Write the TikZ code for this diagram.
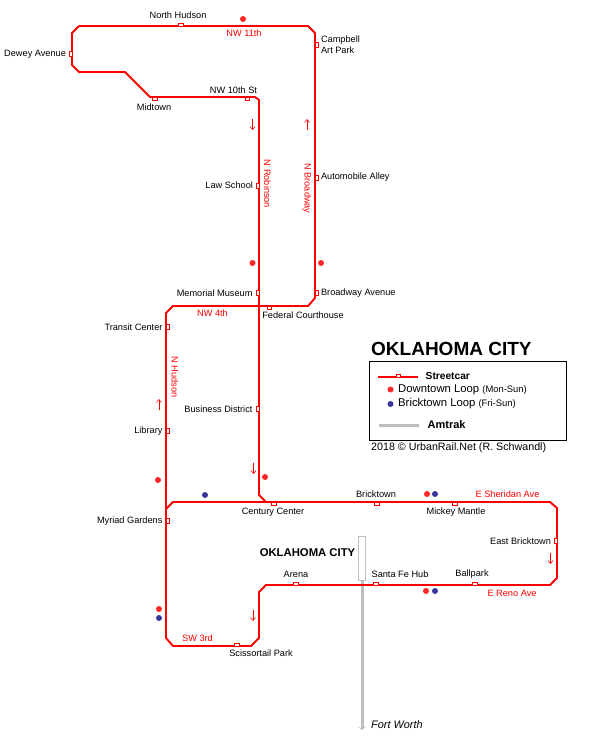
\documentclass[tikz,border=0pt]{standalone}
\usepackage{fontspec}
\setmainfont{Liberation Sans}
\usetikzlibrary{arrows.meta, positioning}
\definecolor{routered}{RGB}{255,0,0}
\definecolor{dotblue}{RGB}{20,20,140}
\definecolor{amtrakgrey}{RGB}{190,190,190}
\tikzset{
	route/.style={draw=routered, line width=1.9pt, line join=miter},
	stop/.style={draw=routered, fill=white, line width=0.7pt, inner sep=0pt, minimum width=4.5pt, minimum height=3pt},
	stopv/.style={stop, minimum width=3pt, minimum height=5pt},
	lbl/.style={font=\fontsize{9.2}{11}\selectfont, inner sep=0pt, align=center, text=black},
	street/.style={lbl, text=routered},
	dotred/.style={circle, fill=routered, inner sep=0pt, minimum size=6pt, opacity=0.85},
	dotblu/.style={circle, fill=dotblue, inner sep=0pt, minimum size=6pt, opacity=0.85},
	dir/.style={draw=routered, line width=0.6pt, -{Straight Barb[length=3pt,width=5pt]}},
	amtrak/.style={draw=amtrakgrey, line width=3pt}
}
\begin{document}
\begin{tikzpicture}[x=1pt,y=-1pt]
	\useasboundingbox (0,0) rectangle (612,736);
	% route corners
	\coordinate (t1) at (79,26);
	\coordinate (t2) at (308,26);
	\coordinate (t3) at (315,33);
	\coordinate (t4) at (315,298);
	\coordinate (t5) at (308,306);
	\coordinate (t6) at (173,306);
	\coordinate (t7) at (166,313);
	\coordinate (t8) at (166,638);
	\coordinate (t9) at (173,646);
	\coordinate (t10) at (251,646);
	\coordinate (t11) at (259,638);
	\coordinate (t12) at (259,592);
	\coordinate (t13) at (266,585);
	\coordinate (t14) at (550,585);
	\coordinate (t15) at (557,578);
	\coordinate (t16) at (557,508);
	\coordinate (t17) at (550,502);
	\coordinate (t18) at (173,502);
	\coordinate (t19) at (166,509);
	\coordinate (r1) at (266,502);
	\coordinate (r2) at (259,495);
	\coordinate (r3) at (259,100);
	\coordinate (r4) at (255,97);
	\coordinate (r5) at (150,97);
	\coordinate (r6) at (125,72);
	\coordinate (r7) at (79,72);
	\coordinate (r8) at (72,65);
	\coordinate (r9) at (72,33);
	% amtrak
	\coordinate (a1) at (362,730);
	\node[draw=amtrakgrey, fill=white, line width=0.9pt, inner sep=0pt, minimum width=6.5pt, minimum height=44pt] (hub) at (362,558) {};
	\draw[amtrak, -{Straight Barb[length=3pt,width=7pt,line width=0.6pt]}] (hub.south) -- (a1);
	\node[lbl, font=\fontsize{10.9}{12}\selectfont\itshape, anchor=west] (worth) at (371,725) {Fort Worth};
	% streetcar
	\draw[route] (t1) -- (t2) -- (t3) -- (t4) -- (t5) -- (t6) -- (t7) -- (t8) -- (t9) -- (t10) -- (t11) -- (t12) -- (t13) -- (t14) -- (t15) -- (t16) -- (t17) -- (t18) -- (t19);
	\draw[route] (r1) -- (r2) -- (r3) -- (r4) -- (r5) -- (r6) -- (r7) -- (r8) -- (r9) -- (t1);
	% stops
	\node[stop] (hudson) at (181,24.5) {};
	\node[stopv] (dewey) at (70.5,54) {};
	\node[stopv] (campbell) at (316.5,44.5) {};
	\node[stop] (midtown) at (155,98.5) {};
	\node[stop] (tenth) at (247.5,98.5) {};
	\node[stopv] (law) at (257.5,185.5) {};
	\node[stopv] (auto) at (316.5,177.5) {};
	\node[stopv] (memorial) at (257.5,293) {};
	\node[stopv] (broadway) at (316.5,293) {};
	\node[stop] (federal) at (269.5,307.5) {};
	\node[stopv] (transit) at (167.5,327) {};
	\node[stopv] (business) at (257.5,409) {};
	\node[stopv] (library) at (167.5,431) {};
	\node[stop] (century) at (274,503.5) {};
	\node[stop] (bricktown) at (377,503.5) {};
	\node[stop] (mickey) at (455,503.5) {};
	\node[stopv] (myriad) at (167.5,521) {};
	\node[stopv] (eastb) at (555.5,541) {};
	\node[stop] (arena) at (296,583.5) {};
	\node[stop] (santafe) at (376,583.5) {};
	\node[stop] (ballpark) at (475,583.5) {};
	\node[stop] (sciss) at (237,644.5) {};
	% stop names
	\node[lbl, above=3.5pt of hudson, xshift=-3pt] (lhudson) {North Hudson};
	\node[lbl, left=2.5pt of dewey] (ldewey) {Dewey Avenue};
	\node[lbl, right=2.5pt of campbell, align=left] (lcampbell) {Campbell\\Art Park};
	\node[lbl, below=3pt of midtown, xshift=-1pt] (lmidtown) {Midtown};
	\node[lbl, above=3pt of tenth, xshift=-14pt] (ltenth) {NW 10th St};
	\node[lbl, left=2.5pt of law] (llaw) {Law School};
	\node[lbl, right=2.5pt of auto] (lauto) {Automobile Alley};
	\node[lbl, left=3pt of memorial] (lmemorial) {Memorial Museum};
	\node[lbl, right=2.5pt of broadway] (lbroadway) {Broadway Avenue};
	\node[lbl, below=2.5pt of federal, xshift=33.5pt] (lfederal) {Federal Courthouse};
	\node[lbl, left=3pt of transit] (ltransit) {Transit Center};
	\node[lbl, left=3pt of business] (lbusiness) {Business District};
	\node[lbl, left=3pt of library] (llibrary) {Library};
	\node[lbl, below=2.5pt of century, xshift=-1pt] (lcentury) {Century Center};
	\node[lbl, above=3.5pt of bricktown, xshift=-1pt] (lbricktown) {Bricktown};
	\node[lbl, below=2.5pt of mickey, xshift=1pt] (lmickey) {Mickey Mantle};
	\node[lbl, left=3pt of myriad] (lmyriad) {Myriad Gardens};
	\node[lbl, left=2.5pt of eastb] (leastb) {East Bricktown};
	\node[lbl, above=3.5pt of arena] (larena) {Arena};
	\node[lbl, above=3.5pt of santafe, xshift=24pt] (lsantafe) {Santa Fe Hub};
	\node[lbl, above=3.5pt of ballpark, xshift=-3pt] (lballpark) {Ballpark};
	\node[lbl, below=3pt of sciss, xshift=24pt] (lsciss) {Scissortail Park};
	% streets
	\node[street] (nw11) at (244,33.5) {NW 11th};
	\node[street, rotate=-90] (robinson) at (267.5,184) {N Robinson};
	\node[street, rotate=-90] (nbroad) at (307,188.5) {N Broadway};
	\node[street] (nw4) at (212.5,313.5) {NW 4th};
	\node[street, rotate=-90] (nhudson) at (175,377) {N Hudson};
	\node[street] (sw3) at (197.5,638.5) {SW 3rd};
	\node[street] (sheridan) at (507.5,494) {E Sheridan Ave};
	\node[street] (reno) at (512,593) {E Reno Ave};
	% direction arrows
	\draw[dir] (252.5,119) -- (252.5,130);
	\draw[dir] (307,130) -- (307,119);
	\draw[dir] (159,410) -- (159,399);
	\draw[dir] (253.5,463) -- (253.5,474);
	\draw[dir] (253,610) -- (253,621);
	\draw[dir] (550.5,553) -- (550.5,564);
	% service dots
	\node[dotred] (d1) at (243,19) {};
	\node[dotred] (d2) at (252.5,263) {};
	\node[dotred] (d3) at (321,263) {};
	\node[dotred] (d4) at (158,480) {};
	\node[dotred] (d5) at (265,477) {};
	\node[dotred] (d6) at (427,494) {};
	\node[dotred] (d7) at (426,591) {};
	\node[dotred] (d8) at (159,609) {};
	\node[dotblu] (b1) at (205,495) {};
	\node[dotblu] (b2) at (435,494) {};
	\node[dotblu] (b3) at (435,591) {};
	\node[dotblu] (b4) at (159,618) {};
	% titles
	\node[lbl, font=\bfseries\fontsize{11.3}{13}\selectfont] (city) at (307.5,553) {OKLAHOMA CITY};
	\node[lbl, font=\bfseries\fontsize{19}{21}\selectfont, anchor=west] (title) at (371,349) {OKLAHOMA CITY};
	% legend
	\node[draw=black, line width=0.7pt, inner sep=0pt, minimum width=197pt, minimum height=79pt] (legend) at (467.5,400.5) {};
	\coordinate (k1) at (378,377);
	\coordinate (k2) at (418,377);
	\coordinate (k3) at (379,425);
	\coordinate (k4) at (419,425);
	\draw[route] (k1) -- (k2);
	\node[stop] (kstop) at (398.5,375.5) {};
	\node[lbl, font=\bfseries\fontsize{10.2}{12}\selectfont, anchor=west] (kcar) at (425.5,376) {Streetcar};
	\node[dotred] (kred) at (390.5,389.5) {};
	\node[lbl, font=\fontsize{11.3}{13}\selectfont, anchor=west] (kdown) at (398,390) {Downtown Loop \fontsize{9.4}{11}\selectfont(Mon-Sun)};
	\node[dotblu] (kblue) at (390.5,404) {};
	\node[lbl, font=\fontsize{11.3}{13}\selectfont, anchor=west] (kbrick) at (398,404) {Bricktown Loop \fontsize{9.4}{11}\selectfont(Fri-Sun)};
	\draw[amtrak] (k3) -- (k4);
	\node[lbl, font=\bfseries\fontsize{11}{13}\selectfont, anchor=west] (kamtrak) at (427.5,425) {Amtrak};
	\node[lbl, font=\fontsize{10.7}{12}\selectfont, anchor=west] (credit) at (371,448) {2018 © UrbanRail.Net (R. Schwandl)};
\end{tikzpicture}
\end{document}
